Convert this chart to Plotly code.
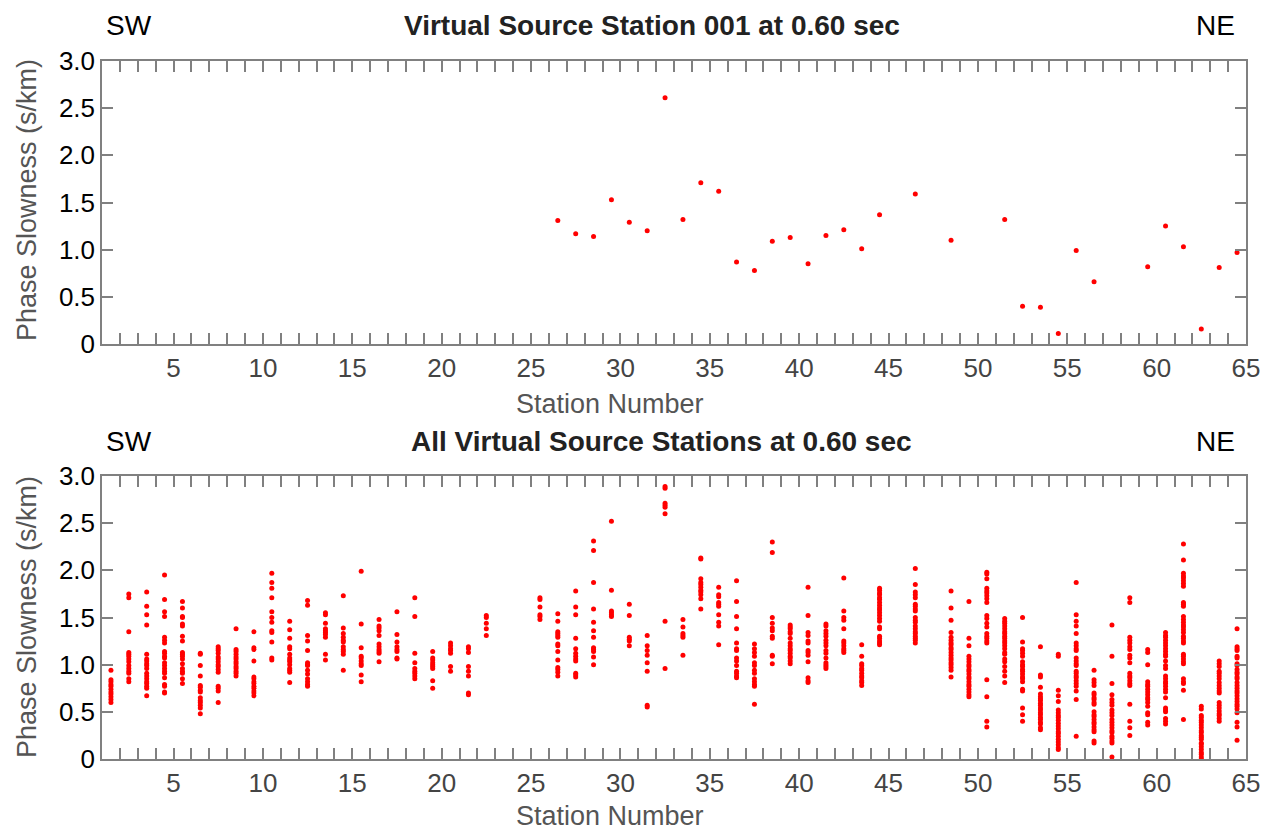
import plotly.graph_objects as go

# ---------------- data ----------------
X_OFFSET = 0.5  # stations are drawn at the centre of each station cell

top_title = "Virtual Source Station 001 at 0.60 sec"
bottom_title = "All Virtual Source Stations at 0.60 sec"
y_title = "Phase Slowness (s/km)"
x_title = "Station Number"

top_stations = [26, 27, 28, 29, 30, 31, 32, 33, 34, 35, 36, 37, 38, 39, 40, 41, 42, 43, 44,
                46, 48, 51, 52, 53, 54, 55, 56, 59, 60, 61, 62, 63, 64]
top_slowness = [1.31, 1.17, 1.14, 1.53, 1.29, 1.20, 2.61, 1.32, 1.71, 1.62, 0.87, 0.78, 1.09,
                1.13, 0.85, 1.15, 1.21, 1.01, 1.37, 1.59, 1.10, 1.32, 0.40, 0.39, 0.11, 0.99,
                0.66, 0.82, 1.25, 1.03, 0.16, 0.81, 0.97]

all_stations = list(range(1, 65))
all_slowness = [
    [0.94, 0.84, 0.82, 0.79, 0.77, 0.74, 0.71, 0.69, 0.66, 0.63, 0.60],
    [1.75, 1.71, 1.35, 1.13, 1.11, 1.09, 1.06, 1.03, 0.99, 0.96, 0.93, 0.91, 0.85, 0.82],
    [1.77, 1.62, 1.53, 1.42, 1.11, 1.06, 1.04, 1.01, 0.99, 0.96, 0.91, 0.88, 0.85, 0.82, 0.80, 0.77, 0.75, 0.67],
    [1.95, 1.69, 1.56, 1.51, 1.29, 1.26, 1.23, 1.14, 1.12, 1.09, 1.07, 1.02, 0.99, 0.96, 0.93, 0.91, 0.86, 0.79, 0.77, 0.71, 0.70],
    [1.67, 1.60, 1.51, 1.50, 1.43, 1.41, 1.30, 1.25, 1.13, 1.11, 1.09, 1.06, 1.01, 0.96, 0.93, 0.91, 0.85, 0.80],
    [1.12, 1.11, 0.99, 0.88, 0.78, 0.76, 0.73, 0.71, 0.65, 0.62, 0.60, 0.57, 0.54, 0.48],
    [1.19, 1.17, 1.15, 1.12, 1.08, 1.06, 1.03, 1.00, 0.98, 0.95, 0.92, 0.77, 0.75, 0.72, 0.60],
    [1.38, 1.16, 1.14, 1.11, 1.08, 1.06, 1.03, 1.01, 0.98, 0.96, 0.93, 0.91, 0.88],
    [1.35, 1.18, 1.16, 1.04, 0.87, 0.85, 0.82, 0.80, 0.77, 0.75, 0.72, 0.70, 0.67],
    [1.97, 1.87, 1.81, 1.71, 1.56, 1.50, 1.45, 1.36, 1.34, 1.24, 1.07, 1.05],
    [1.46, 1.37, 1.28, 1.19, 1.17, 1.11, 1.07, 1.05, 1.03, 1.00, 0.96, 0.94, 0.92, 0.81],
    [1.68, 1.63, 1.31, 1.25, 1.15, 1.02, 1.00, 0.99, 0.94, 0.90, 0.85, 0.82, 0.79, 0.77],
    [1.55, 1.53, 1.44, 1.38, 1.36, 1.34, 1.32, 1.29, 1.11, 1.05],
    [1.73, 1.39, 1.33, 1.29, 1.26, 1.24, 1.19, 1.16, 1.14, 1.11, 0.94],
    [1.99, 1.43, 1.18, 1.09, 1.07, 1.04, 1.01, 0.99, 0.89, 0.82],
    [1.48, 1.41, 1.39, 1.36, 1.31, 1.22, 1.19, 1.16, 1.14, 1.12, 1.03],
    [1.56, 1.32, 1.24, 1.19, 1.16, 1.14, 1.07, 1.06],
    [1.71, 1.51, 1.12, 1.02, 0.96, 0.93, 0.91, 0.88, 0.85],
    [1.14, 1.07, 1.05, 1.02, 1.00, 0.98, 0.96, 0.83, 0.75],
    [1.23, 1.20, 1.17, 1.15, 1.12, 0.98, 0.93],
    [1.19, 1.17, 1.13, 0.98, 0.93, 0.88, 0.70, 0.68],
    [1.52, 1.50, 1.44, 1.38, 1.31],
    [],
    [],
    [1.71, 1.69, 1.61, 1.53, 1.51, 1.48],
    [1.54, 1.46, 1.35, 1.33, 1.31, 1.29, 1.22, 1.20, 1.14, 1.05, 0.97, 0.95, 0.92, 0.88],
    [1.78, 1.61, 1.53, 1.28, 1.17, 1.12, 1.09, 1.06, 1.04, 0.91, 0.89, 0.87],
    [2.31, 2.21, 1.87, 1.59, 1.45, 1.36, 1.29, 1.18, 1.16, 1.14, 1.08, 1.00],
    [2.52, 1.79, 1.57, 1.55, 1.53, 1.51],
    [1.64, 1.52, 1.29, 1.27, 1.25, 1.20],
    [1.31, 1.20, 1.15, 1.10, 1.02, 0.93, 0.57, 0.55],
    [2.89, 2.87, 2.71, 2.69, 2.67, 2.60, 1.46, 0.96],
    [1.48, 1.40, 1.33, 1.31, 1.29, 1.10],
    [2.13, 2.12, 1.91, 1.87, 1.85, 1.82, 1.79, 1.77, 1.74, 1.70, 1.59],
    [1.82, 1.74, 1.72, 1.66, 1.64, 1.62, 1.53, 1.45, 1.41, 1.21],
    [1.89, 1.67, 1.51, 1.38, 1.23, 1.17, 1.15, 1.07, 1.04, 0.99, 0.93, 0.91, 0.88, 0.86],
    [1.22, 1.17, 1.13, 1.09, 1.02, 0.99, 0.94, 0.91, 0.85, 0.82, 0.79, 0.77, 0.58],
    [2.30, 2.19, 1.50, 1.44, 1.39, 1.36, 1.30, 1.28, 1.10, 1.09, 1.01],
    [1.42, 1.40, 1.38, 1.35, 1.33, 1.28, 1.23, 1.20, 1.17, 1.15, 1.12, 1.09, 1.07, 1.04, 1.01],
    [1.82, 1.52, 1.34, 1.31, 1.25, 1.23, 1.15, 1.13, 1.10, 1.03, 0.86, 0.83, 0.81],
    [1.43, 1.41, 1.36, 1.33, 1.30, 1.26, 1.23, 1.20, 1.15, 1.12, 1.07, 1.02, 1.00, 0.98, 0.96],
    [1.92, 1.57, 1.50, 1.47, 1.38, 1.25, 1.23, 1.20, 1.17, 1.15, 1.13],
    [1.21, 1.09, 1.01, 0.99, 0.96, 0.94, 0.91, 0.88, 0.86, 0.83, 0.81, 0.78],
    [1.81, 1.79, 1.76, 1.74, 1.71, 1.69, 1.66, 1.63, 1.60, 1.58, 1.55, 1.52, 1.49, 1.46, 1.40, 1.38, 1.30, 1.28, 1.25, 1.23, 1.21],
    [],
    [2.02, 1.85, 1.77, 1.74, 1.71, 1.64, 1.62, 1.59, 1.57, 1.50, 1.47, 1.45, 1.41, 1.38, 1.35, 1.33, 1.30, 1.28, 1.26, 1.23],
    [],
    [1.78, 1.60, 1.47, 1.34, 1.29, 1.26, 1.23, 1.21, 1.18, 1.16, 1.13, 1.10, 1.07, 1.05, 1.02, 1.00, 0.97, 0.94, 0.87],
    [1.67, 1.28, 1.20, 1.09, 1.06, 1.03, 1.00, 0.98, 0.95, 0.93, 0.90, 0.87, 0.85, 0.82, 0.79, 0.77, 0.74, 0.71, 0.68, 0.66],
    [1.98, 1.96, 1.91, 1.81, 1.78, 1.76, 1.73, 1.70, 1.66, 1.52, 1.49, 1.44, 1.40, 1.33, 1.30, 1.28, 1.25, 1.23, 0.84, 0.66, 0.40, 0.34],
    [1.49, 1.46, 1.44, 1.41, 1.38, 1.35, 1.33, 1.30, 1.28, 1.25, 1.23, 1.20, 1.17, 1.13, 1.11, 1.06, 1.03, 0.98, 0.93, 0.88, 0.81],
    [1.50, 1.24, 1.17, 1.15, 1.12, 1.09, 1.03, 1.00, 0.98, 0.95, 0.93, 0.90, 0.87, 0.85, 0.82, 0.74, 0.72, 0.54, 0.47, 0.40],
    [1.19, 0.89, 0.87, 0.76, 0.69, 0.66, 0.64, 0.62, 0.59, 0.57, 0.54, 0.52, 0.49, 0.47, 0.44, 0.42, 0.39, 0.37, 0.33, 0.31],
    [1.11, 1.09, 0.73, 0.67, 0.61, 0.52, 0.49, 0.46, 0.44, 0.41, 0.38, 0.35, 0.32, 0.29, 0.27, 0.24, 0.21, 0.18, 0.15, 0.12, 0.10],
    [1.87, 1.53, 1.46, 1.41, 1.33, 1.23, 1.20, 1.17, 1.15, 1.07, 1.04, 1.01, 0.99, 0.93, 0.91, 0.88, 0.86, 0.83, 0.80, 0.77, 0.72, 0.63, 0.24],
    [0.94, 0.84, 0.81, 0.78, 0.70, 0.68, 0.65, 0.63, 0.60, 0.58, 0.50, 0.47, 0.45, 0.42, 0.39, 0.37, 0.34, 0.31, 0.29, 0.19, 0.17],
    [1.42, 1.09, 0.80, 0.68, 0.63, 0.60, 0.57, 0.52, 0.49, 0.46, 0.42, 0.39, 0.36, 0.33, 0.30, 0.28, 0.24, 0.22, 0.19, 0.17, 0.02],
    [1.71, 1.66, 1.29, 1.26, 1.23, 1.19, 1.16, 1.10, 1.07, 1.02, 0.91, 0.88, 0.86, 0.83, 0.80, 0.78, 0.58, 0.40, 0.33, 0.25],
    [1.16, 1.13, 1.00, 0.82, 0.79, 0.77, 0.74, 0.71, 0.68, 0.65, 0.63, 0.60, 0.56, 0.49, 0.47, 0.39, 0.36],
    [1.34, 1.31, 1.29, 1.26, 1.23, 1.20, 1.17, 1.14, 1.11, 1.09, 1.04, 0.99, 0.96, 0.88, 0.85, 0.82, 0.80, 0.77, 0.74, 0.71, 0.65, 0.54, 0.52, 0.50, 0.43, 0.40, 0.37],
    [2.28, 2.11, 1.97, 1.94, 1.92, 1.89, 1.86, 1.83, 1.66, 1.64, 1.62, 1.51, 1.48, 1.45, 1.42, 1.40, 1.37, 1.34, 1.30, 1.28, 1.25, 1.23, 1.11, 1.09, 1.06, 1.03, 1.01, 0.85, 0.82, 0.80, 0.73, 0.42],
    [0.56, 0.53, 0.46, 0.44, 0.41, 0.39, 0.36, 0.33, 0.30, 0.28, 0.25, 0.23, 0.21, 0.17, 0.16, 0.13, 0.10, 0.07, 0.05, 0.02, 0.00],
    [1.04, 1.01, 0.98, 0.93, 0.91, 0.88, 0.85, 0.81, 0.78, 0.75, 0.72, 0.70, 0.60, 0.57, 0.54, 0.51, 0.48, 0.46, 0.43, 0.40],
    [1.38, 1.19, 1.17, 1.15, 1.09, 1.07, 1.01, 0.99, 0.95, 0.92, 0.90, 0.87, 0.85, 0.81, 0.78, 0.75, 0.72, 0.70, 0.67, 0.64, 0.61, 0.58, 0.56, 0.53, 0.49, 0.39, 0.34, 0.20],
]

x_tick_vals = list(range(1, 66))
x_tick_text = [str(v) if v % 5 == 0 else "" for v in x_tick_vals]
y_tick_vals = [0, 0.5, 1.0, 1.5, 2.0, 2.5, 3.0]
y_tick_text = ["0", "0.5", "1.0", "1.5", "2.0", "2.5", "3.0"]

# ---------------- figure ----------------
FONT = "Liberation Sans, Arial, Helvetica, sans-serif"
RED = "#ff0000"
FRAME = "#808080"

bx, by = [], []
for st, vals in zip(all_stations, all_slowness):
    for v in vals:
        bx.append(st + X_OFFSET)
        by.append(v)

fig = go.Figure()
fig.add_trace(go.Scatter(x=[s + X_OFFSET for s in top_stations], y=top_slowness,
                         mode="markers", marker=dict(color=RED, size=5, line=dict(width=0)),
                         xaxis="x", yaxis="y", showlegend=False))
fig.add_trace(go.Scatter(x=bx, y=by, mode="markers",
                         marker=dict(color=RED, size=5, line=dict(width=0)),
                         xaxis="x2", yaxis="y2", showlegend=False))

xax = dict(range=[1, 65], tickmode="array", tickvals=x_tick_vals, ticktext=x_tick_text,
           ticks="inside", ticklen=11, tickwidth=1.5, tickcolor=FRAME,
           showline=True, linecolor=FRAME, linewidth=1.5, mirror="allticks",
           showgrid=False, zeroline=False, automargin=False,
           tickfont=dict(family=FONT, size=26, color="#444444"))
yax = dict(range=[0, 3], tickmode="array", tickvals=y_tick_vals, ticktext=y_tick_text,
           ticks="inside", ticklen=11, tickwidth=1.5, tickcolor=FRAME,
           showline=True, linecolor=FRAME, linewidth=1.5, mirror="allticks",
           showgrid=False, zeroline=False, automargin=False,
           tickfont=dict(family=FONT, size=26, color="#000000"))

W, H = 1262, 832
ml, mr, mt, mb = 102, 16, 61, 73
pw, ph = W - ml - mr, H - mt - mb


def px2x(px):
    return (px - ml) / pw


def py2y(py):
    return (H - mb - py) / ph


fig.update_layout(
    template="none",
    width=W, height=H,
    margin=dict(l=ml, r=mr, t=mt, b=mb, autoexpand=False),
    paper_bgcolor="white", plot_bgcolor="white",
    font=dict(family=FONT),
    showlegend=False,
    xaxis=dict(xax, domain=[0, 1], anchor="y"),
    yaxis=dict(yax, domain=[py2y(344), 1], anchor="x"),
    xaxis2=dict(xax, domain=[0, 1], anchor="y2"),
    yaxis2=dict(yax, domain=[0, py2y(476)], anchor="x2"),
)

ann = []
panels = [(top_title, 652, 25, 200, 404), (bottom_title, 661, 441, 617, 816)]
for (title, cx, ty, ymid, xty) in panels:
    ann.append(dict(text="<b>" + title + "</b>", x=px2x(cx), y=py2y(ty), xref="paper", yref="paper",
                    xanchor="center", yanchor="middle", showarrow=False,
                    font=dict(family=FONT, size=28, color="#222222")))
    ann.append(dict(text="SW", x=px2x(104), y=py2y(ty), xref="paper", yref="paper",
                    xanchor="left", yanchor="middle", showarrow=False,
                    font=dict(family=FONT, size=28, color="#000000")))
    ann.append(dict(text="NE", x=px2x(1237), y=py2y(ty), xref="paper", yref="paper",
                    xanchor="right", yanchor="middle", showarrow=False,
                    font=dict(family=FONT, size=28, color="#000000")))
    ann.append(dict(text=y_title, x=px2x(27), y=py2y(ymid), xref="paper", yref="paper",
                    xanchor="center", yanchor="middle", showarrow=False, textangle=-90,
                    font=dict(family=FONT, size=27, color="#555555")))
    ann.append(dict(text=x_title, x=px2x(610), y=py2y(xty), xref="paper", yref="paper",
                    xanchor="center", yanchor="middle", showarrow=False,
                    font=dict(family=FONT, size=27, color="#555555")))
fig.update_layout(annotations=ann)

fig.write_html("out.html")
